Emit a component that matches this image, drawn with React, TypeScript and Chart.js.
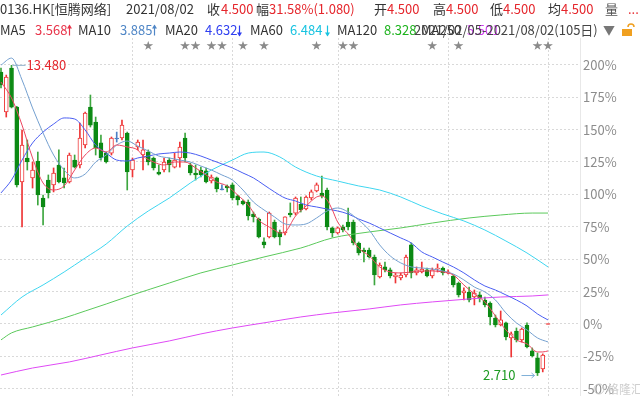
import { useEffect, useRef } from "react";
import { Chart, registerables } from "chart.js";

Chart.register(...registerables);

// Daily candles of 0136.HK, in % change versus the latest close (4.500)
const openPct = [
  194.4, 163.6, 197.5, 167.4, 109.6, 128.1, 112.7, 125.8, 97.2, 111.1,
  107.3, 122.7, 112.7, 109.6, 126.5, 122.7, 138.1, 167.4, 155.9, 139.7,
  131.9, 131.9, 143.5, 143.5, 147.4, 118.8, 136.6, 130.4, 132.7, 128.1,
  117.3, 118.8, 126.5, 121.1, 128.1, 143.5, 122.7, 116.5, 118.8, 118.1,
  110.3, 112.7, 104.2, 106.5, 107.3, 98.8, 94.9, 94.1, 84.9, 81.0,
  63.3, 67.1, 78.7, 71.0, 70.2, 85.6, 85.6, 92.6, 88.7, 97.2,
  102.6, 101.1, 103.4, 74.1, 70.2, 74.8, 78.7, 78.7, 62.5, 57.1,
  57.1, 51.7, 36.3, 44.0, 41.7, 36.3, 35.5, 37.8, 61.0, 39.4,
  40.1, 41.7, 37.0, 42.4, 43.2, 39.4, 37.0, 31.6, 23.9, 24.7,
  20.8, 22.4, 18.5, 16.2, 4.6, -0.8, 0.8, -10.8, -5.4, -12.3,
  -0.8, -20.8, -26.2, -34.7, 0,
];
const highPct = [
  197.5, 192.1, 199.6, 168.0, 149.7, 142.0, 125.0, 132.7, 99.5, 115.0,
  120.4, 134.3, 120.4, 131.9, 130.4, 155.1, 163.6, 176.7, 159.7, 145.8,
  132.7, 144.3, 148.1, 157.4, 148.1, 128.1, 142.0, 142.0, 134.3, 128.9,
  122.7, 128.1, 128.1, 131.9, 140.4, 147.4, 124.2, 122.7, 121.1, 120.4,
  115.0, 113.4, 107.3, 107.3, 108.8, 99.5, 95.7, 95.7, 86.4, 81.8,
  66.4, 86.4, 80.2, 72.5, 82.6, 93.4, 98.0, 98.0, 98.8, 103.4,
  108.8, 114.2, 104.9, 74.8, 74.8, 76.4, 89.5, 80.2, 63.3, 58.6,
  58.6, 53.2, 47.1, 47.8, 43.2, 39.4, 39.4, 53.2, 62.5, 44.0,
  47.8, 43.2, 43.2, 46.3, 44.0, 41.7, 37.8, 32.4, 27.8, 28.5,
  26.2, 24.7, 20.8, 17.0, 6.9, 10.0, 1.5, -6.2, -3.1, -3.1,
  0.8, -18.5, -22.4, -23.1, 0,
];
const lowPct = [
  182.1, 159.7, 166.7, 105.7, 74.8, 118.8, 104.9, 91.8, 76.4, 97.2,
  101.9, 108.8, 104.9, 108.8, 120.4, 120.4, 135.8, 152.0, 130.4, 126.5,
  124.2, 130.4, 140.4, 142.0, 103.4, 113.4, 134.3, 118.8, 122.7, 118.8,
  115.0, 117.3, 117.3, 120.4, 121.1, 125.0, 115.0, 111.1, 113.4, 108.8,
  108.8, 101.9, 103.4, 101.9, 95.7, 91.8, 91.8, 80.2, 78.7, 66.4,
  58.6, 66.4, 66.4, 61.0, 68.7, 82.6, 84.1, 86.4, 88.0, 95.7,
  101.9, 97.2, 72.5, 67.1, 69.4, 71.0, 72.5, 61.0, 53.2, 47.8,
  50.9, 30.1, 35.5, 40.1, 35.5, 31.6, 34.0, 36.3, 35.5, 37.8,
  39.4, 36.3, 35.5, 40.1, 37.8, 38.6, 28.5, 20.8, 18.5, 17.0,
  14.7, 17.0, 13.1, -0.8, -2.3, -1.5, -12.3, -25.5, -13.9, -13.9,
  -18.5, -25.5, -39.8, -37.0, 0,
];
const closePct = [
  184.4, 190.6, 167.4, 107.3, 138.1, 125.0, 118.8, 99.5, 90.3, 101.1,
  116.5, 109.6, 108.8, 130.4, 121.1, 143.5, 162.8, 153.5, 135.8, 128.1,
  125.0, 143.5, 143.5, 153.5, 117.3, 126.5, 140.4, 134.3, 125.0, 120.4,
  115.7, 125.0, 122.7, 126.5, 136.6, 128.1, 116.5, 115.0, 115.0, 109.6,
  113.4, 104.2, 104.2, 104.9, 97.2, 95.7, 92.6, 83.3, 82.6, 67.1,
  61.0, 85.6, 67.1, 67.1, 82.6, 84.1, 97.2, 88.0, 98.0, 101.9,
  107.3, 98.8, 74.8, 70.2, 74.1, 72.5, 74.8, 62.5, 54.8, 55.6,
  51.7, 37.8, 45.5, 41.7, 37.0, 37.8, 37.8, 51.7, 39.4, 41.7,
  42.4, 37.0, 41.7, 43.2, 39.4, 40.1, 30.1, 22.4, 25.5, 18.5,
  23.9, 20.1, 14.7, 5.4, -0.8, 3.1, -10.0, -7.7, -12.3, -3.9,
  -17.7, -24.7, -37.8, -24.0, 0,
];

// Moving averages: [candle index, % value]
const ma5 = [
  [0, 186.7], [2, 174.4], [4, 153.5], [6, 128.1], [8, 108.8], [10, 103.4], [12, 106.5],
  [14, 118.8], [16, 130.4], [18, 135.8], [20, 132.7], [22, 138.1], [24, 136.6], [26, 134.3],
  [27, 129.6], [29, 125.0], [31, 122.7], [33, 125.0], [35, 125.0], [37, 120.4], [39, 115.0],
  [41, 109.6], [43, 106.5], [45, 99.5], [47, 91.8], [49, 80.2], [51, 74.8], [52, 72.5],
  [53, 70.2], [54, 71.0], [56, 83.3], [58, 91.0], [60, 98.0], [61, 98.8], [62, 95.7],
  [63, 88.0], [64, 78.7], [66, 69.4], [68, 58.6], [70, 52.5], [72, 44.0], [74, 40.1],
  [76, 39.4], [78, 40.1], [80, 40.9], [82, 40.9], [84, 40.1], [86, 37.8], [88, 30.1],
  [90, 23.1], [92, 17.0], [94, 6.2], [96, -4.6], [98, -12.3], [100, -15.4], [102, -21.6],
  [103, -21.6], [104, -20.8],
];
const ma10 = [
  [0, 199.8], [2, 205.2], [4, 188.3], [6, 166.7], [8, 147.4], [10, 130.4], [12, 118.8],
  [14, 112.7], [16, 115.7], [18, 125.0], [20, 130.4], [22, 138.1], [24, 141.2], [26, 137.3],
  [28, 133.5], [30, 129.6], [32, 128.1], [34, 126.5], [36, 125.0], [38, 121.9], [40, 118.8],
  [42, 115.0], [44, 111.1], [46, 103.4], [48, 94.1], [50, 88.0], [52, 82.6], [54, 77.2],
  [56, 76.4], [58, 77.2], [60, 81.8], [62, 87.2], [64, 89.5], [66, 86.4], [68, 80.2],
  [70, 72.5], [72, 61.0], [74, 52.5], [76, 47.1], [78, 44.0], [80, 43.2], [82, 42.4],
  [84, 40.9], [86, 38.6], [88, 34.0], [90, 28.5], [92, 24.7], [94, 18.5], [96, 8.5],
  [98, 0.8], [100, -4.6], [102, -10.8], [104, -13.9],
];
const ma20 = [
  [0, 101.1], [2, 111.1], [4, 126.5], [6, 139.7], [8, 148.1], [10, 154.3], [12, 159.0],
  [14, 158.2], [16, 149.7], [18, 138.1], [20, 131.9], [22, 126.5], [24, 125.8], [26, 128.1],
  [28, 129.6], [30, 131.2], [32, 131.9], [34, 132.7], [36, 131.9], [38, 129.6], [40, 126.5],
  [42, 123.5], [44, 120.4], [46, 116.5], [48, 112.7], [50, 107.3], [52, 101.9], [54, 97.2],
  [56, 94.9], [58, 91.8], [60, 90.3], [62, 88.7], [64, 87.2], [66, 84.9], [68, 81.0],
  [70, 77.9], [72, 74.1], [74, 70.2], [76, 66.4], [78, 62.5], [80, 55.6], [82, 51.7],
  [84, 47.8], [86, 44.0], [88, 39.4], [90, 34.0], [92, 29.3], [94, 26.2], [96, 22.4],
  [98, 18.5], [100, 13.9], [102, 7.7], [104, 3.1],
];
const ma60 = [
  [0, 6.9], [4, 20.8], [8, 30.1], [12, 40.1], [16, 50.9], [20, 61.7], [24, 75.6],
  [28, 87.2], [32, 97.2], [36, 108.8], [40, 118.8], [44, 126.5], [47, 131.9], [50, 132.7],
  [53, 128.9], [56, 121.1], [60, 114.2], [64, 110.3], [68, 106.5], [72, 103.4], [76, 98.0],
  [80, 91.0], [84, 84.9], [88, 79.5], [92, 72.5], [96, 64.0], [100, 54.8], [104, 44.0],
];
const ma120 = [
  [0, -12.3], [2, -6.9], [6, -2.3], [12, 4.6], [16, 10.0], [20, 15.4], [25, 22.4],
  [32, 31.6], [38, 39.4], [44, 45.5], [50, 51.7], [57, 58.6], [63, 66.4], [70, 71.0],
  [76, 74.1], [82, 77.9], [89, 81.8], [95, 84.1], [101, 85.6], [104, 85.6],
];
const ma250 = [
  [0, -39.4], [6, -34.0], [13, -29.3], [19, -23.9], [25, -18.5], [32, -13.1], [38, -7.7],
  [44, -3.1], [51, 1.5], [57, 5.4], [63, 8.5], [70, 11.6], [76, 14.7], [82, 17.0],
  [89, 19.3], [95, 20.8], [101, 21.6], [104, 22.4],
];

const monthGridIdx = [25, 44, 64, 85, 104];
const starIdx = [28, 35, 37, 40, 42, 46, 50, 60, 65, 67, 82, 87, 102, 104];
const yTickPct = [-50, -25, 0, 25, 50, 75, 100, 125, 150, 175, 200];
const highPrice = 13.48;
const lowPrice = 2.71;

const FONT = '"Noto Sans CJK SC", "Microsoft YaHei", sans-serif';
const DARK = "#333333";
const RED = "#e5262c";
const UP = "#ee3536";
const DOWN = "#0c8a14";
const DOWN_WICK = "#3da63f";
const FLAT = "#4d7fc4";
const GRID = "#d9d9d9";
const C_MA5 = "#ec4660";
const C_MA10 = "#74a0d0";
const C_MA20 = "#4a5ef2";
const C_MA60 = "#3fd6f0";
const C_MA120 = "#5bc95b";
const C_MA250 = "#df4af5";

function tone(i: number): string {
  const o = openPct[i];
  const c = closePct[i];
  if (c > o) return "up";
  if (c < o) return "down";
  const pc = i > 0 ? closePct[i - 1] : c;
  return c > pc ? "up" : c < pc ? "down" : "flat";
}

export default function App() {
  const ref = useRef<HTMLCanvasElement>(null);

  useEffect(() => {
    document.body.style.margin = "0";
    const canvas = ref.current!;
    const idx = closePct.map((_, i) => i);
    const tones = idx.map(tone);

    const line = (label: string, pts: number[][], color: string) => ({
      type: "line" as const,
      label,
      data: pts.map(([x, y]) => ({ x, y })),
      borderColor: color,
      borderWidth: 1,
      pointRadius: 0,
      fill: false,
      cubicInterpolationMode: "monotone" as const,
      order: 1,
    });

    const vgrid = {
      id: "vgrid",
      beforeDatasetsDraw(chart: any) {
        const ctx: CanvasRenderingContext2D = chart.ctx;
        const xs = chart.scales.x;
        const { top, bottom } = chart.chartArea;
        ctx.save();
        ctx.strokeStyle = GRID;
        ctx.lineWidth = 1;
        ctx.setLineDash([2, 2]);
        monthGridIdx.forEach((v) => {
          const x = Math.round(xs.getPixelForValue(v)) + 0.5;
          ctx.beginPath();
          ctx.moveTo(x, top);
          ctx.lineTo(x, bottom);
          ctx.stroke();
        });
        ctx.restore();
      },
    };

    const overlay = {
      id: "overlay",
      afterDraw(chart: any) {
        const ctx: CanvasRenderingContext2D = chart.ctx;
        const xs = chart.scales.x;
        const ys = chart.scales.y;
        ctx.save();
        ctx.textBaseline = "middle";
        ctx.textAlign = "left";
        const t = (x: number, y: number, s: string, color: string, size = 13) => {
          ctx.font = `${size}px ${FONT}`;
          ctx.fillStyle = color;
          ctx.fillText(s, x, y);
        };
        const arrow = (x: number, y: number, up: boolean, color: string) => {
          ctx.strokeStyle = color;
          ctx.fillStyle = color;
          ctx.lineWidth = 1.2;
          ctx.beginPath();
          ctx.moveTo(x, y - 5);
          ctx.lineTo(x, y + 5);
          ctx.stroke();
          ctx.beginPath();
          if (up) {
            ctx.moveTo(x - 2.5, y - 2);
            ctx.lineTo(x, y - 6);
            ctx.lineTo(x + 2.5, y - 2);
          } else {
            ctx.moveTo(x - 2.5, y + 2);
            ctx.lineTo(x, y + 6);
            ctx.lineTo(x + 2.5, y + 2);
          }
          ctx.closePath();
          ctx.fill();
        };
        // header row 1
        const r1 = 9;
        t(0, r1, "0136.HK[恒腾网络]", DARK);
        t(126, r1, "2021/08/02", DARK);
        t(207, r1, "收", DARK);
        t(221, r1, "4.500", RED);
        t(256, r1, "幅", DARK);
        t(269, r1, "31.58%(1.080)", RED);
        t(374, r1, "开", DARK);
        t(387, r1, "4.500", RED);
        t(433, r1, "高", DARK);
        t(446, r1, "4.500", RED);
        t(490, r1, "低", DARK);
        t(503, r1, "4.500", RED);
        t(548, r1, "均", DARK);
        t(561, r1, "4.500", RED);
        t(605, r1, "量", "#555555");
        t(628, r1, "...", RED);
        // header row 2
        const r2 = 30.5;
        t(0, r2, "MA5", DARK);
        t(35, r2, "3.568", "#e8344a");
        arrow(69.5, r2, true, "#e8344a");
        t(78, r2, "MA10", DARK);
        t(120, r2, "3.885", "#4f86c6");
        arrow(154.5, r2, true, "#4f86c6");
        t(165, r2, "MA20", DARK);
        t(205, r2, "4.632", "#2f3ff0");
        arrow(239.5, r2, false, "#2f3ff0");
        t(250, r2, "MA60", DARK);
        t(290, r2, "6.484", "#18c3e0");
        arrow(327.5, r2, false, "#18c3e0");
        t(337, r2, "MA120", DARK);
        t(384, r2, "8.328", "#1db31d");
        t(421, r2, "MA250", DARK);
        t(467, r2, "5.501", "#cf3cf0");
        t(414, r2, "2021/02/05-2021/08/02(105日)", "#444444");
        t(603, r2, "▼", "#777777", 12);
        // lock icon
        ctx.strokeStyle = "#f0a020";
        ctx.fillStyle = "#f0a020";
        ctx.lineWidth = 1.5;
        ctx.beginPath();
        ctx.arc(631, 27, 3, Math.PI, 0);
        ctx.stroke();
        ctx.fillRect(622, 29, 10, 7);

        // stars row
        ctx.textAlign = "center";
        starIdx.forEach((i) => t(xs.getPixelForValue(i), 45, "★", "#8a8a8a", 10));

        // highest / lowest marks
        let hi = 0;
        let lo = 0;
        idx.forEach((i) => {
          if (highPct[i] > highPct[hi]) hi = i;
          if (lowPct[i] < lowPct[lo]) lo = i;
        });
        const hx = xs.getPixelForValue(hi);
        const hy = ys.getPixelForValue(highPct[hi]);
        ctx.strokeStyle = "#8fb0cc";
        ctx.lineWidth = 1;
        ctx.beginPath();
        ctx.moveTo(hx + 1, hy);
        ctx.lineTo(hx + 14, hy);
        ctx.stroke();
        ctx.textAlign = "left";
        t(hx + 15, hy, highPrice.toFixed(3), RED);

        const lx = xs.getPixelForValue(lo);
        const ly = ys.getPixelForValue(lowPct[lo]);
        ctx.strokeStyle = "#7fb0d8";
        ctx.beginPath();
        ctx.moveTo(lx - 16, ly);
        ctx.lineTo(lx - 3, ly);
        ctx.stroke();
        ctx.beginPath();
        ctx.moveTo(lx - 6, ly - 2.5);
        ctx.lineTo(lx - 3, ly);
        ctx.lineTo(lx - 6, ly + 2.5);
        ctx.stroke();
        ctx.textAlign = "right";
        t(lx - 22, ly, lowPrice.toFixed(3), "#1d9a22");

        // watermark
        ctx.textAlign = "left";
        ctx.strokeStyle = "#cfcfcf";
        ctx.beginPath();
        ctx.arc(599, 389, 5, 0, Math.PI * 2);
        ctx.stroke();
        t(607, 389, "格隆汇", "#cfcfcf", 12);
        ctx.restore();
      },
    };

    const chart = new Chart(canvas, {
      type: "bar",
      data: {
        datasets: [
          line("MA5", ma5, C_MA5),
          line("MA10", ma10, C_MA10),
          line("MA20", ma20, C_MA20),
          line("MA60", ma60, C_MA60),
          line("MA120", ma120, C_MA120),
          line("MA250", ma250, C_MA250),
          {
            type: "bar",
            label: "body",
            data: idx.map((i) => ({ x: i, y: [openPct[i], closePct[i]] })),
            backgroundColor: tones.map((k) => (k === "up" ? "#ffffff" : k === "down" ? DOWN : FLAT)),
            borderColor: tones.map((k) => (k === "up" ? UP : k === "down" ? DOWN : FLAT)),
            borderWidth: 1,
            borderSkipped: false,
            barThickness: 4,
            minBarLength: 1,
            grouped: false,
            order: 5,
          } as any,
          {
            type: "bar",
            label: "wick",
            data: idx.map((i) => ({ x: i, y: [lowPct[i], highPct[i]] })),
            backgroundColor: tones.map((k) => (k === "up" ? UP : k === "down" ? DOWN_WICK : FLAT)),
            borderWidth: 0,
            barThickness: 1,
            minBarLength: 1,
            grouped: false,
            order: 6,
          } as any,
        ],
      },
      options: {
        responsive: false,
        animation: false,
        devicePixelRatio: 1,
        events: [],
        layout: { padding: { top: 38, left: 0, right: 0, bottom: 0 }, autoPadding: false },
        plugins: { legend: { display: false }, tooltip: { enabled: false } },
        scales: {
          x: {
            type: "linear",
            display: false,
            min: -0.19,
            max: 110.08,
            offset: false,
            grid: { offset: false },
          },
          y: {
            position: "right",
            min: -55.6,
            max: 220.7,
            beginAtZero: false,
            afterBuildTicks: (s: any) => {
              s.ticks = yTickPct.map((v) => ({ value: v }));
            },
            afterFit: (s: any) => {
              s.width = 60;
              s.paddingTop = 0;
              s.paddingBottom = 0;
            },
            ticks: {
              padding: 3,
              color: "#8c8c8c",
              font: { size: 13, family: FONT },
              callback: (v: any) => `${v}%`,
            },
            grid: { color: GRID, drawTicks: false },
            border: { display: true, color: "#e8e8e8", dash: [2, 2] },
          },
        },
      } as any,
      plugins: [vgrid, overlay],
    });
    return () => chart.destroy();
  }, []);

  return (
    <canvas
      ref={ref}
      width={640}
      height={396}
      style={{ display: "block", width: 640, height: 396 }}
    />
  );
}
